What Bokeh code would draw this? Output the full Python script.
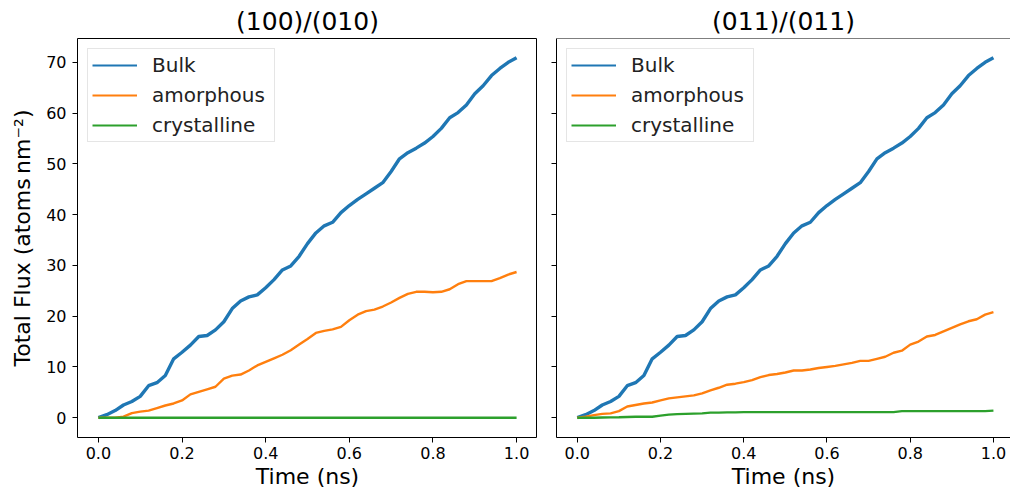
from bokeh.plotting import figure
from bokeh.layouts import row
from bokeh.models import (Range1d, FixedTicker, NumeralTickFormatter,
                          CustomJSTickFormatter, Legend, LegendItem, Span)
from bokeh.embed import file_html
from bokeh.resources import INLINE

# ---- data -------------------------------------------------------------
time_ns = [0.00, 0.02, 0.04, 0.06, 0.08, 0.10, 0.12, 0.14, 0.16, 0.18,
           0.20, 0.22, 0.24, 0.26, 0.28, 0.30, 0.32, 0.34, 0.36, 0.38,
           0.40, 0.42, 0.44, 0.46, 0.48, 0.50, 0.52, 0.54, 0.56, 0.58,
           0.60, 0.62, 0.64, 0.66, 0.68, 0.70, 0.72, 0.74, 0.76, 0.78,
           0.80, 0.82, 0.84, 0.86, 0.88, 0.90, 0.92, 0.94, 0.96, 0.98,
           1.00]

bulk = [0.0, 0.6, 1.4, 2.5, 3.2, 4.2, 6.3, 6.9, 8.3, 11.6,
        12.9, 14.3, 16.0, 16.2, 17.3, 18.9, 21.5, 23.0, 23.8, 24.2,
        25.6, 27.2, 29.1, 29.9, 31.8, 34.3, 36.4, 37.8, 38.5, 40.4,
        41.8, 43.0, 44.1, 45.2, 46.3, 48.5, 51.0, 52.2, 53.1, 54.1,
        55.4, 57.0, 59.1, 60.1, 61.6, 63.8, 65.4, 67.4, 68.8, 70.0,
        70.9]

amorphous_100 = [0.0, 0.0, 0.0, 0.2, 0.9, 1.2, 1.4, 1.9, 2.4, 2.8,
                 3.4, 4.6, 5.1, 5.6, 6.1, 7.7, 8.3, 8.5, 9.3, 10.3,
                 11.0, 11.7, 12.4, 13.3, 14.4, 15.5, 16.7, 17.1, 17.4, 17.9,
                 19.2, 20.3, 21.0, 21.3, 21.9, 22.7, 23.6, 24.4, 24.8, 24.8,
                 24.7, 24.8, 25.3, 26.3, 26.9, 26.9, 26.9, 26.9, 27.5, 28.2,
                 28.7]

crystalline_100 = [0.0, 0.0, 0.0, 0.0, 0.0, 0.0, 0.0, 0.0, 0.0, 0.0,
                   0.0, 0.0, 0.0, 0.0, 0.0, 0.0, 0.0, 0.0, 0.0, 0.0,
                   0.0, 0.0, 0.0, 0.0, 0.0, 0.0, 0.0, 0.0, 0.0, 0.0,
                   0.0, 0.0, 0.0, 0.0, 0.0, 0.0, 0.0, 0.0, 0.0, 0.0,
                   0.0, 0.0, 0.0, 0.0, 0.0, 0.0, 0.0, 0.0, 0.0, 0.0,
                   0.0]

amorphous_011 = [0.0, 0.2, 0.5, 0.75, 0.85, 1.3, 2.2, 2.5, 2.8, 3.0,
                 3.4, 3.8, 4.0, 4.2, 4.4, 4.8, 5.4, 5.9, 6.5, 6.7,
                 7.0, 7.4, 8.0, 8.4, 8.6, 8.9, 9.3, 9.3, 9.5, 9.8,
                 10.0, 10.2, 10.5, 10.8, 11.2, 11.2, 11.6, 12.0, 12.8, 13.2,
                 14.4, 15.0, 16.0, 16.3, 17.0, 17.7, 18.4, 19.0, 19.4, 20.3,
                 20.8]

crystalline_011 = [0.0, 0.0, 0.0, 0.05, 0.06, 0.1, 0.15, 0.2, 0.2, 0.2,
                   0.4, 0.6, 0.7, 0.75, 0.8, 0.85, 1.0, 1.0, 1.05, 1.05,
                   1.1, 1.1, 1.1, 1.1, 1.1, 1.1, 1.1, 1.1, 1.1, 1.1,
                   1.1, 1.1, 1.1, 1.1, 1.1, 1.1, 1.1, 1.1, 1.1, 1.3,
                   1.3, 1.3, 1.3, 1.3, 1.3, 1.3, 1.3, 1.3, 1.3, 1.3,
                   1.4]

panel_titles = ["(100)/(010)", "(011)/(011)"]
series_labels = ["Bulk", "amorphous", "crystalline"]
x_ticks = [0.0, 0.2, 0.4, 0.6, 0.8, 1.0]
y_ticks = [0, 10, 20, 30, 40, 50, 60, 70]

COLORS = ["#1f77b4", "#ff7f0e", "#2ca02c"]
WIDTHS = [3.4, 2.4, 2.4]
FONT = "DejaVu Sans"


def make_panel(title, series, width, border_left, x_end, first):
    p = figure(width=width, height=497, output_backend="svg",
               toolbar_location=None,
               x_range=Range1d(-0.05, x_end), y_range=Range1d(-3.9, 74.7),
               min_border_left=border_left, min_border_right=0,
               min_border_top=38, min_border_bottom=60)
    p.background_fill_color = "white"
    p.border_fill_color = "white"
    p.xgrid.visible = False
    p.ygrid.visible = False

    p.title.text = title
    p.title.align = "center"
    p.title.text_font = FONT
    p.title.text_font_size = "25px"
    p.title.text_font_style = "normal"
    p.title.text_color = "black"
    p.title.standoff = 6

    for ax in (p.xaxis[0], p.yaxis[0]):
        ax.major_tick_out = 5
        ax.major_tick_in = 0
        ax.minor_tick_line_color = None
        ax.major_tick_line_color = "black"
        ax.major_label_text_font = FONT
        ax.major_label_text_font_size = "16px"
        ax.major_label_text_color = "black"
        ax.axis_label_text_font = FONT
        ax.axis_label_text_font_size = "22px"
        ax.axis_label_text_font_style = "normal"
        ax.axis_label_text_color = "black"

    p.xaxis.ticker = FixedTicker(ticks=x_ticks)
    p.xaxis.formatter = NumeralTickFormatter(format="0.0")
    p.xaxis.axis_label = "Time (ns)"
    p.xaxis.axis_label_standoff = 2
    p.xaxis.major_label_standoff = 4
    p.yaxis.ticker = FixedTicker(ticks=y_ticks)

    if first:
        p.yaxis.axis_label = "Total Flux (atoms\u2009nm\u207b\u00b2)"
        p.yaxis.axis_label_standoff = 8
        p.yaxis.major_label_standoff = 6
        p.xaxis.axis_line_color = None
        p.yaxis.axis_line_color = None
        p.outline_line_color = "black"
        p.outline_line_width = 1
    else:
        p.yaxis.formatter = CustomJSTickFormatter(code="return ''")
        p.outline_line_color = None
        p.xaxis.axis_line_color = "black"
        p.yaxis.axis_line_color = "black"
        p.add_layout(Span(location=74.7, dimension="width",
                          line_color="black", line_width=1))

    items = []
    for ys, color, lw, label in zip(series, COLORS, WIDTHS, series_labels):
        p.line(time_ns, ys, line_color=color, line_width=lw)
        # thin single-point line used only as the legend key
        key = p.line(time_ns[:1], ys[:1], line_color=color, line_width=1.8)
        items.append(LegendItem(label=label, renderers=[key]))

    legend = Legend(items=items, location="top_left")
    legend.label_text_font = FONT
    legend.label_text_font_size = "20px"
    legend.label_text_color = "#222222"
    legend.glyph_width = 45
    legend.glyph_height = 20
    legend.label_height = 20
    legend.label_width = 118
    legend.label_standoff = 15
    legend.spacing = 6
    legend.padding = 4
    legend.margin = 10
    legend.border_line_color = "#cccccc"
    legend.border_line_width = 1
    legend.background_fill_color = "white"
    legend.background_fill_alpha = 0.8
    p.add_layout(legend, "center")
    return p


left = make_panel(panel_titles[0], [bulk, amorphous_100, crystalline_100],
                  537, 77, 1.05, True)
right = make_panel(panel_titles[1], [bulk, amorphous_011, crystalline_011],
                   473, 19, 1.041, False)

layout = row(left, right, spacing=0)
open("out.html", "w").write(file_html(layout, INLINE))
